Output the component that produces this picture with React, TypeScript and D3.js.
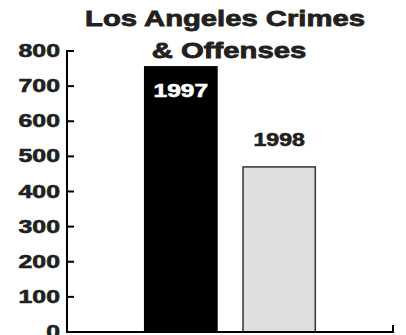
import React from "react";
import * as d3 from "d3";

const years = ["1997", "1998"];
const values = [755, 470];
const yTicks = [0, 100, 200, 300, 400, 500, 600, 700, 800];
const titleLines = ["Los Angeles Crimes", "& Offenses"];

const W = 406;
const H = 335;
const FONT = "'Liberation Sans', Arial, Helvetica, sans-serif";
const TEXT = "#231f20";

export default function App() {
  const x = d3
    .scaleBand<string>()
    .domain(years)
    .range([67, 393])
    .paddingInner(0.265)
    .paddingOuter(0.79);
  const y = d3.scaleLinear().domain([0, 800]).range([332, 51]);

  const fills = ["#000000", "#dedede"];
  const strokes = ["#000000", "#333333"];

  return (
    <svg
      width={W}
      height={H}
      style={{ position: "absolute", left: 0, top: 0, background: "#fff" }}
    >
      {/* title */}
      <g fontFamily={FONT} fontWeight="bold" fill={TEXT} textAnchor="middle">
        <text transform={`translate(225,26) scale(1.3,1)`} fontSize={22.5} stroke={TEXT} strokeWidth={0.8}>
          {titleLines[0]}
        </text>
        <text transform={`translate(229,58) scale(1.3,1)`} fontSize={22.5} stroke={TEXT} strokeWidth={0.8}>
          {titleLines[1]}
        </text>
      </g>

      {/* bars */}
      {years.map((yr, i) => (
        <rect
          key={yr}
          x={x(yr)!}
          y={y(values[i])}
          width={x.bandwidth()}
          height={y(0) - y(values[i])}
          fill={fills[i]}
          stroke={strokes[i]}
          strokeWidth={1.5}
        />
      ))}

      {/* bar labels */}
      <g fontFamily={FONT} fontWeight="bold" textAnchor="middle" fontSize={17.5}>
        <text
          transform={`translate(${x(years[0])! + x.bandwidth() / 2},${y(values[0]) + 30}) scale(1.4,1)`}
          fill="#ffffff"
          stroke="#ffffff"
          strokeWidth={0.6}
        >
          {years[0]}
        </text>
        <text
          transform={`translate(${x(years[1])! + x.bandwidth() / 2},${y(values[1]) - 21}) scale(1.32,1)`}
          fill={TEXT}
          stroke={TEXT}
          strokeWidth={0.6}
        >
          {years[1]}
        </text>
      </g>

      {/* y axis */}
      <line x1={67} x2={67} y1={y(800) - 1} y2={y(0) + 1} stroke="#000" strokeWidth={2} />
      {yTicks.map((t) => (
        <g key={t}>
          {t > 0 && (
            <line x1={67} x2={74} y1={y(t)} y2={y(t)} stroke="#000" strokeWidth={2} />
          )}
          <text
            transform={`translate(60,${y(t) + 6}) scale(1.38,1)`}
            textAnchor="end"
            fontFamily={FONT}
            fontWeight="bold"
            fontSize={18}
            fill={TEXT}
            stroke={TEXT}
            strokeWidth={0.6}
          >
            {t}
          </text>
        </g>
      ))}

      {/* x axis */}
      <line x1={66} x2={394} y1={y(0)} y2={y(0)} stroke="#000" strokeWidth={2} />
      <line x1={393} x2={393} y1={y(0)} y2={y(0) - 7} stroke="#000" strokeWidth={2} />
    </svg>
  );
}
